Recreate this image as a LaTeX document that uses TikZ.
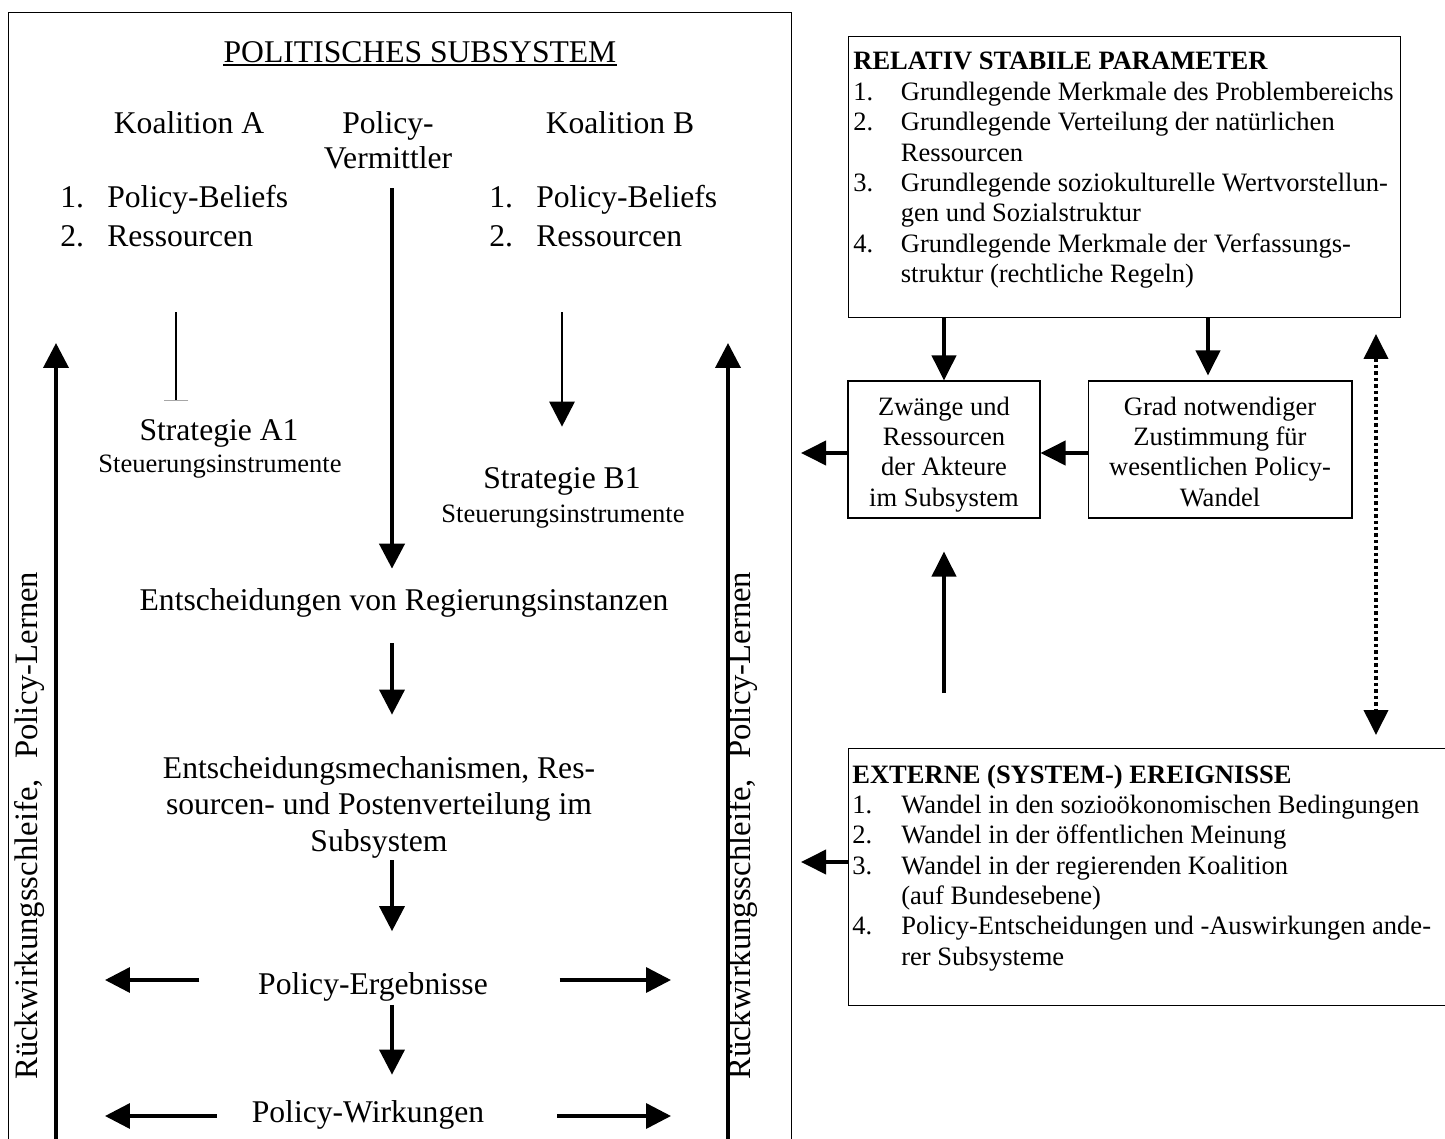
\documentclass[tikz,border=0pt]{standalone}
\usepackage{fontspec}
\setmainfont{Liberation Serif}
\usetikzlibrary{arrows.meta}
\tikzset{
  mtxt/.style={font=\fontsize{18pt}{20.3pt}\selectfont, inner sep=0pt, text height=0.44cm, text depth=0.14cm},
  rtxt/.style={font=\fontsize{18.6pt}{20.3pt}\selectfont, inner sep=0pt, text height=0.44cm, text depth=0.14cm},
  stxt/.style={font=\fontsize{15.1pt}{17.3pt}\selectfont, inner sep=0pt},
  frame/.style={draw, line width=0.6pt, inner sep=0pt},
  arr/.style={line width=2pt, -{Triangle[length=0.5cm, width=0.5cm]}},
  rarr/.style={line width=2.2pt, -{Triangle[length=0.5cm, width=0.48cm]}},
  dotarr/.style={line width=2.2pt, dash pattern=on 0.07cm off 0.06cm,
     {Triangle[length=0.5cm, width=0.48cm]}-{Triangle[length=0.5cm, width=0.48cm]}},
}
\begin{document}
\begin{tikzpicture}[x=0.02cm, y=-0.02cm]
\fill[white] (0,0) rectangle (1445,1139);
\useasboundingbox (0,0) rectangle (1445,1139);

% ---------------- left panel ----------------
\node[frame, anchor=north west, minimum width=15.66cm, minimum height=22.96cm] (subsys) at (8,12) {};

\node[mtxt, anchor=base] (title) at (420,62) {POLITISCHES SUBSYSTEM};
\draw[line width=1.1pt] ([yshift=-0.056cm]title.base west) -- ([yshift=-0.056cm]title.base east);

\node[mtxt, anchor=base] (koalA) at (189,133) {Koalition A};
\node[mtxt, anchor=base] (verm1) at (388,133) {Policy-};
\node[mtxt, anchor=base] (verm2) at (388,168) {Vermittler};
\node[mtxt, anchor=base] (koalB) at (620,133) {Koalition B};

\node[mtxt, anchor=base west] (a1) at (60,207) {\makebox[0.94cm][l]{1.}Policy-Beliefs};
\node[mtxt, anchor=base west] (a2) at (60,246) {\makebox[0.94cm][l]{2.}Ressourcen};
\node[mtxt, anchor=base west] (b1) at (489,207) {\makebox[0.94cm][l]{1.}Policy-Beliefs};
\node[mtxt, anchor=base west] (b2) at (489,246) {\makebox[0.94cm][l]{2.}Ressourcen};

\node[mtxt, anchor=base] (stratA) at (219,440) {Strategie A1};
\node[stxt, anchor=base] (stratAi) at (220,472) {Steuerungsinstrumente};
\node[mtxt, anchor=base] (stratB) at (562,488) {Strategie B1};
\node[stxt, anchor=base] (stratBi) at (563,522) {Steuerungsinstrumente};

\node[mtxt, anchor=base] (reg) at (404,610) {Entscheidungen von Regierungsinstanzen};
\node[mtxt, anchor=base] (mech1) at (379,778) {Entscheidungsmechanismen, Res-};
\node[mtxt, anchor=base] (mech2) at (379,814) {sourcen- und Postenverteilung im};
\node[mtxt, anchor=base] (mech3) at (379,851) {Subsystem};
\node[mtxt, anchor=base] (erg) at (373,994) {Policy-Ergebnisse};
\node[mtxt, anchor=base] (wirk) at (368,1122) {Policy-Wirkungen};

\node[rtxt, rotate=90, anchor=base west] (lblL) at (37,1080) {Rückwirkungsschleife,\hspace{0.63em}Policy-Lernen};
\node[rtxt, rotate=90, anchor=base west] (lblR) at (750,1080) {Rückwirkungsschleife,\hspace{0.63em}Policy-Lernen};

\coordinate (vx) at (392,0);
\coordinate (ax) at (176,0);
\coordinate (ergL) at (105,980);
\coordinate (ergR) at (671,980);
\coordinate (wirkL) at (105,1116);
\coordinate (wirkR) at (671,1116);
\coordinate (fbL) at (56,343);
\coordinate (fbR) at (728,343);

\draw[arr, line width=2.4pt, shorten <=0.26cm, shorten >=0.38cm] (verm2.south -| vx) -- (reg.north -| vx);
\draw[arr, shorten <=0.52cm, shorten >=0.82cm] (reg.south -| vx) -- (mech1.north -| vx);
\draw[arr, shorten <=0.04cm, shorten >=0.81cm] (mech3.south -| vx) -- (erg.north -| vx);
\draw[arr, shorten <=0.07cm, shorten >=0.5cm] (erg.south -| vx) -- (wirk.north -| vx);

\draw[arr, shorten <=1.17cm] (erg.west |- ergL) -- (ergL);
\draw[arr, shorten <=1.43cm] (erg.east |- ergR) -- (ergR);
\draw[arr, shorten <=0.69cm] (wirk.west |- wirkL) -- (wirkL);
\draw[arr, shorten <=1.45cm] (wirk.east |- wirkR) -- (wirkR);

\draw[line width=1.5pt, -{Bar[width=0.5cm, line width=0.5pt, color=gray!70]}, shorten <=1.18cm, shorten >=0.34cm] (a2.south -| ax) -- (stratA.north -| ax);
\draw[arr, line width=1.7pt, shorten <=1.18cm, shorten >=0.78cm] (b2.south -| stratB.north) -- (stratB.north);

\draw[arr, line width=2.2pt] (subsys.south -| fbL) -- (fbL);
\draw[arr, line width=2.2pt] (subsys.south -| fbR) -- (fbR);

% ---------------- right side ----------------
\node[frame, anchor=north west, minimum width=11.04cm, minimum height=5.62cm] (params) at (848,36) {};
\node[stxt, anchor=base west] (paramsT) at (853,70) {\begin{tabular}[t]{@{}p{0.95cm}@{}l@{}}
\multicolumn{2}{@{}l@{}}{\textbf{RELATIV STABILE PARAMETER}}\\
1. & Grundlegende Merkmale des Problembereichs\\
2. & Grundlegende Verteilung der natürlichen\\
   & Ressourcen\\
3. & Grundlegende soziokulturelle Wertvorstellun-\\
   & gen und Sozialstruktur\\
4. & Grundlegende Merkmale der Verfassungs-\\
   & struktur (rechtliche Regeln)
\end{tabular}};

\node[frame, minimum width=3.84cm, minimum height=2.74cm] (zwang) at (944,449.5) {};
\node[stxt, anchor=base] (zwangT) at (944,415) {\begin{tabular}[t]{@{}c@{}}Zwänge und\\Ressourcen\\der Akteure\\im Subsystem\end{tabular}};

\node[frame, minimum width=5.28cm, minimum height=2.74cm] (grad) at (1220,449.5) {};
\node[stxt, anchor=base] (gradT) at (1220,415) {\begin{tabular}[t]{@{}c@{}}Grad notwendiger\\Zustimmung für\\wesentlichen Policy-\\Wandel\end{tabular}};

\node[frame, anchor=north west, minimum width=12.44cm, minimum height=5.14cm] (ext) at (848,748) {};
\node[stxt, anchor=base west] (extT) at (852,783) {\begin{tabular}[t]{@{}p{0.98cm}@{}l@{}}
\multicolumn{2}{@{}l@{}}{\textbf{EXTERNE (SYSTEM-) EREIGNISSE}}\\
1. & Wandel in den sozioökonomischen Bedingungen\\
2. & Wandel in der öffentlichen Meinung\\
3. & Wandel in der regierenden Koalition\\
   & (auf Bundesebene)\\
4. & Policy-Entscheidungen und -Auswirkungen ande-\\
   & rer Subsysteme
\end{tabular}};

\coordinate (gx) at (1208,0);
\coordinate (dx) at (1376,0);
\coordinate (zL) at (801,453);
\coordinate (eL) at (801,862);

\draw[rarr] (params.south -| zwang.north) -- (zwang.north);
\draw[rarr, shorten >=0.1cm] (params.south -| gx) -- (grad.north -| gx);
\draw[rarr] (grad.west |- zL) -- (zwang.east |- zL);
\draw[rarr] (zwang.west |- zL) -- (zL);
\draw[rarr, shorten <=1.1cm, shorten >=0.66cm] (ext.north -| zwang.south) -- (zwang.south);
\draw[dotarr, shorten <=0.32cm, shorten >=0.26cm] (params.south -| dx) -- (ext.north -| dx);
\draw[rarr] (ext.west |- eL) -- (eL);
\end{tikzpicture}
\end{document}
